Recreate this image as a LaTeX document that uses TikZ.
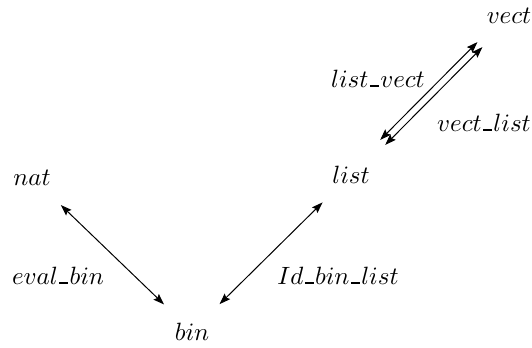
\documentclass[tikz,border=0pt]{standalone}
\usetikzlibrary{arrows.meta}
% short, heavy underscore used inside the identifiers
\newcommand{\usc}{\mkern1mu\rule{3.6pt}{0.9pt}\mkern1mu}
\begin{document}
\begin{tikzpicture}[x=0.4pt,y=-0.4pt,
  obj/.style={inner sep=0pt, anchor=base},
  lbl/.style={inner sep=0pt, anchor=base},
  biarrow/.style={line width=0.4pt,
    {Stealth[length=4.4pt,width=3.1pt,inset=0.7pt]}-{Stealth[length=4.4pt,width=3.1pt,inset=0.7pt]}}]
  \useasboundingbox (0,0) rectangle (532,347);
  % objects
  \node[obj] (nat)  at (32,185)  {$nat$};
  \node[obj] (list) at (351,183) {$list$};
  \node[obj] (bin)  at (192,340) {$bin$};
  \node[obj] (vect) at (509,23)  {$vect$};
  % morphism labels
  \node[lbl] (evl) at (58,284)  {$eval\usc bin$};
  \node[lbl] (idl) at (338,284) {$Id\usc bin\usc list$};
  \node[lbl] (lvl) at (378,87)  {$list\usc vect$};
  \node[lbl] (vll) at (484,131) {$vect\usc list$};
  % morphisms
  \draw[biarrow, shorten <=15.5pt, shorten >=16pt] (bin.center) -- (nat.center);
  \draw[biarrow, shorten <=15.5pt, shorten >=16pt] (bin.center) -- (list.center);
  \draw[biarrow, shorten <=18pt, shorten >=16.5pt,
        transform canvas={shift={(-1pt,1pt)}}] (list.center) -- (vect.center);
  \draw[biarrow, shorten <=18pt, shorten >=16.5pt,
        transform canvas={shift={(1pt,-1pt)}}] (list.center) -- (vect.center);
\end{tikzpicture}
\end{document}
